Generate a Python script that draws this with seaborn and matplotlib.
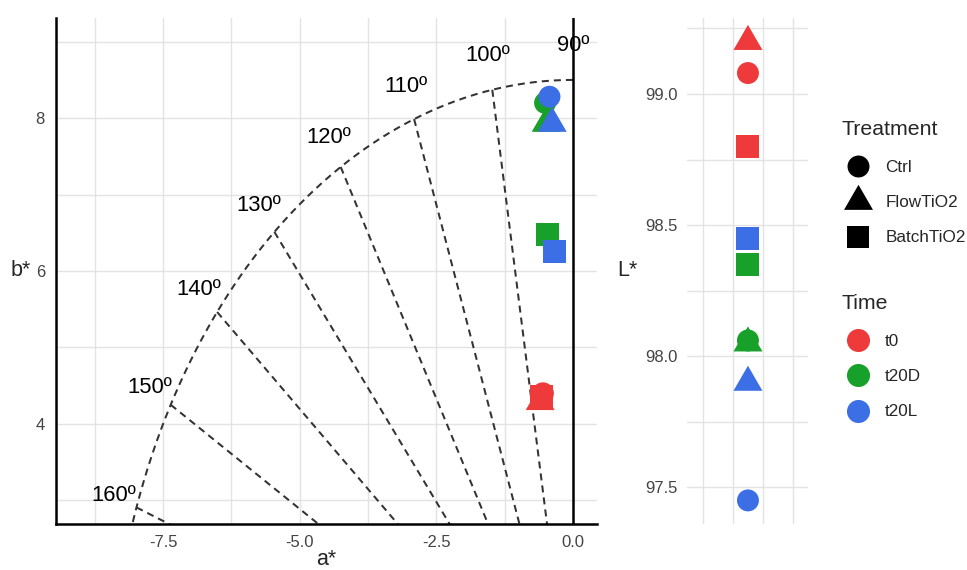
import numpy as np
import pandas as pd
import matplotlib
matplotlib.use("Agg")
import matplotlib.pyplot as plt
import seaborn as sns
from matplotlib.lines import Line2D
from matplotlib.ticker import FixedLocator

# ==================================================
# DATA
# ==================================================

times = ["t0", "t20D", "t20L"]
treatments = ["Ctrl", "FlowTiO2", "BatchTiO2"]

time_col = ["t0"] * 3 + ["t20D"] * 3 + ["t20L"] * 3
treat_col = treatments * 3

a_star = [-0.55, -0.60, -0.57, -0.51, -0.49, -0.46, -0.43, -0.38, -0.34]
b_star = [4.40, 4.29, 4.36, 8.20, 7.93, 6.48, 8.28, 7.93, 6.26]
L_star = [99.08, 99.20, 98.80, 98.06, 98.05, 98.35, 97.45, 97.90, 98.45]

hue_angles = [90, 100, 110, 120, 130, 140, 150, 160]
chroma_radius = 8.5
label_radius = 8.95

x_ticks = [-7.5, -5.0, -2.5, 0.0]
x_tick_labels = ["-7.5", "-5.0", "-2.5", "0.0"]
b_ticks = [4, 6, 8]
L_ticks = [97.5, 98.0, 98.5, 99.0]
L_tick_labels = ["97.5", "98.0", "98.5", "99.0"]

df = pd.DataFrame({
    "Time": time_col,
    "Treatment": treat_col,
    "a": a_star,
    "b": b_star,
    "L": L_star,
    "pos": [0] * 9,
})

# ==================================================
# SETTINGS
# ==================================================

sns.set_style("whitegrid")
plt.rcParams["font.family"] = ["Liberation Sans", "DejaVu Sans"]

palette = {"t0": "#EE3A3A", "t20D": "#17A02A", "t20L": "#3C6FE6"}

# equilateral triangle like ggplot shape 17
tri = [(-1.0, -0.577), (1.0, -0.577), (0.0, 1.155), (-1.0, -0.577)]
markers = {"Ctrl": "o", "FlowTiO2": tri, "BatchTiO2": "s"}
sizes = {"Ctrl": 250, "FlowTiO2": 580, "BatchTiO2": 272}

grid_col = "#E3E3E3"
tick_col = "#444444"
dash_kw = dict(color="#333333", lw=1.45, dashes=(3.5, 2.5), zorder=2)

fig = plt.figure(figsize=(9.67, 5.70), dpi=100)
ax = fig.add_axes([56 / 967, 46 / 570, 541 / 967, 506 / 570])
ax2 = fig.add_axes([687 / 967, 46 / 570, 121 / 967, 506 / 570])

# ==================================================
# a*/b* PANEL
# ==================================================

ax.set_xlim(-9.46, 0.44)
ax.set_ylim(2.69, 9.31)

theta = np.radians(np.linspace(90, 180, 300))
ax.plot(chroma_radius * np.cos(theta), chroma_radius * np.sin(theta), **dash_kw)

for ang in hue_angles[1:]:
    t = np.radians(ang)
    ax.plot([chroma_radius * np.cos(t), 0], [chroma_radius * np.sin(t), 0],
            **dash_kw)

for ang in hue_angles:
    t = np.radians(ang)
    ax.text(label_radius * np.cos(t), label_radius * np.sin(t), f"{ang}º",
            ha="center", va="center", fontsize=15.8, color="black",
            zorder=4, clip_on=False)

ax.axvline(0, color="black", lw=1.8, zorder=2.5)

sns.scatterplot(
    data=df, x="a", y="b",
    hue="Time", style="Treatment", size="Treatment",
    palette=palette, markers=markers, sizes=sizes,
    linewidth=0, legend=False, ax=ax, zorder=3
)

ax.set_xticks(x_ticks)
ax.set_xticklabels(x_tick_labels)
ax.xaxis.set_minor_locator(FixedLocator([-8.75, -6.25, -3.75, -1.25]))
ax.set_yticks(b_ticks)
ax.set_yticklabels([str(v) for v in b_ticks])
ax.yaxis.set_minor_locator(FixedLocator([3, 5, 7, 9]))

ax.grid(True, which="both", color=grid_col, lw=1.0)
ax.set_axisbelow(True)
ax.tick_params(which="both", length=0, pad=8, labelsize=12, labelcolor=tick_col)

ax.set_xlabel("")
ax.set_ylabel("")
ax.text(0.5, -0.071, "a*", transform=ax.transAxes, ha="center", va="center",
        fontsize=15.5)
ax.text(-0.065, 0.5, "b*", transform=ax.transAxes, ha="center", va="center",
        fontsize=15.5)

for side in ["top", "right"]:
    ax.spines[side].set_visible(False)
for side in ["left", "bottom"]:
    ax.spines[side].set_color("black")
    ax.spines[side].set_linewidth(1.8)

# ==================================================
# L* PANEL
# ==================================================

ax2.set_xlim(-2.03, 2.0)
ax2.set_ylim(97.36, 99.29)

sns.scatterplot(
    data=df, x="pos", y="L",
    hue="Time", style="Treatment", size="Treatment",
    palette=palette, markers=markers, sizes=sizes,
    linewidth=0, legend=False, ax=ax2, zorder=3
)

ax2.set_xticks([-1.5, -0.5, 0.5, 1.5])
ax2.set_xticklabels([])
ax2.set_yticks(L_ticks)
ax2.set_yticklabels(L_tick_labels)
ax2.yaxis.set_minor_locator(FixedLocator([97.75, 98.25, 98.75, 99.25]))
ax2.grid(True, which="both", color=grid_col, lw=1.0)
ax2.set_axisbelow(True)
ax2.tick_params(which="both", length=0, pad=7, labelsize=12, labelcolor=tick_col)

ax2.set_xlabel("")
ax2.set_ylabel("")
ax2.text(-0.49, 0.5, "L*", transform=ax2.transAxes, ha="center", va="center",
         fontsize=15.5)

for side in ax2.spines:
    ax2.spines[side].set_visible(False)

# ==================================================
# LEGENDS
# ==================================================

treat_handles = [
    Line2D([], [], ls="none", marker=markers[t], markersize=np.sqrt(sizes[t]),
           markerfacecolor="black", markeredgewidth=0)
    for t in treatments
]
time_handles = [
    Line2D([], [], ls="none", marker="o", markersize=np.sqrt(sizes["Ctrl"]) * 1.05,
           markerfacecolor=palette[t], markeredgewidth=0)
    for t in times
]

leg_kw = dict(
    loc="upper left", frameon=False, fontsize=12.3, title_fontsize=15.3,
    alignment="left", borderpad=0, borderaxespad=0,
    handlelength=1.85, handletextpad=0.68, labelspacing=1.2, handleheight=0.7
)

leg1 = fig.legend(treat_handles, treatments, title="Treatment",
                  bbox_to_anchor=(842 / 967, 1 - 120 / 570), **leg_kw)
leg2 = fig.legend(time_handles, times, title="Time",
                  bbox_to_anchor=(842 / 967, 1 - 294 / 570), **leg_kw)

plt.savefig("out.png", dpi=100)
plt.close()
